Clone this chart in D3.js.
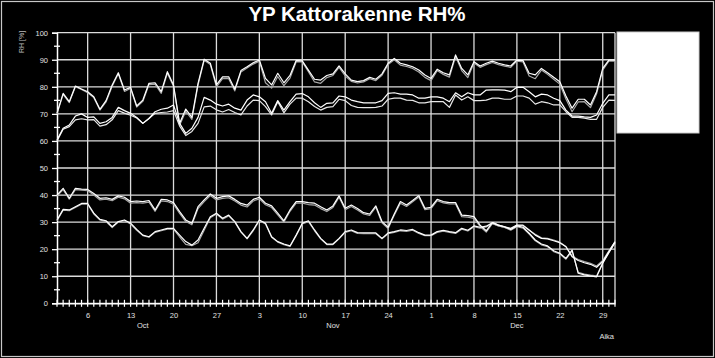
<!DOCTYPE html>
<html><head><meta charset="utf-8">
<script src="https://cdn.jsdelivr.net/npm/d3@7"></script>
<style>
body{margin:0;background:#000}
svg{display:block}
text{font-family:"Liberation Sans",Arial,sans-serif}
</style>
</head><body>
<svg id="chart" width="715" height="358"></svg>
<script>
const title = "YP Kattorakenne RH%";
const yLabel = "RH [%]";
const xLabel = "Aika";
const startDate = "2013-10-01";
const endDate = "2013-12-31";
const yTicks = [0,10,20,30,40,50,60,70,80,90,100];
const yMinorTicks = [5,15,25,35,45,55,65,75,85,95];
const monthLabels = ["Oct","Nov","Dec"];
const monthLabelDates = ["2013-10-15","2013-11-15","2013-12-15"];

const a1 = [70.3,77.6,74.5,80.3,79.2,78.2,76.3,71.7,74.9,80.7,85.2,78.8,79.8,72.9,75.1,81.3,81.5,78.2,85.6,80.7,66.5,71.8,68.7,81.3,90.2,88.7,80.7,83.7,83.7,79.1,86.0,87.4,88.9,89.9,83.1,80.7,85.0,81.5,84.2,89.7,89.6,86.2,82.8,82.5,84.2,84.8,87.7,84.8,82.5,81.9,82.3,83.5,82.8,84.8,88.7,90.5,88.7,88.1,87.4,86.2,84.4,83.1,86.5,85.2,84.4,91.8,86.8,84.4,89.3,87.7,88.7,89.5,88.7,88.1,87.7,89.9,89.7,85.0,84.4,86.8,85.2,83.5,81.9,76.6,72.1,75.4,75.4,73.3,78.2,86.8,89.9,89.9];
const a2 = [70.0,77.2,74.2,80.0,79.0,77.8,76.0,71.4,74.4,80.2,84.8,78.3,79.4,72.5,74.6,80.8,81.0,77.6,85.0,80.2,65.8,71.0,68.0,80.6,89.8,88.2,80.0,83.0,83.0,78.5,85.5,87.0,88.4,89.5,81.5,79.5,83.8,80.4,83.2,89.2,89.2,85.6,81.8,81.3,83.4,84.2,87.2,84.0,82.0,81.4,81.8,83.0,82.3,84.3,88.2,90.0,88.0,87.5,86.8,85.5,83.5,82.3,86.0,84.6,83.6,91.2,86.0,83.4,88.8,87.2,88.2,89.0,88.2,87.6,87.2,89.5,89.2,84.0,83.0,86.2,84.6,82.8,81.0,75.5,70.8,74.4,74.5,72.3,77.4,86.2,89.5,89.5];
const b1 = [60.3,64.7,65.9,69.2,70.0,68.7,68.9,66.5,67.1,68.7,72.4,71.2,70.2,68.7,66.5,68.3,70.8,71.7,72.1,73.3,66.5,62.8,64.7,68.7,76.1,75.1,73.6,72.9,73.6,72.1,71.4,75.1,77.0,76.3,74.5,70.2,74.9,71.4,74.5,77.3,77.5,76.3,74.1,72.4,73.9,74.1,76.6,76.3,75.1,74.5,74.1,74.1,74.1,74.9,77.6,77.8,77.3,77.3,77.0,75.8,75.8,76.3,76.3,75.8,74.5,77.8,76.3,77.8,77.0,77.0,78.8,78.9,78.9,78.8,78.2,79.8,79.8,78.2,76.3,77.3,77.0,75.8,74.9,71.4,69.2,69.2,68.9,68.7,69.6,73.9,77.0,77.0];
const b2 = [60.0,64.3,65.3,67.8,68.2,67.8,67.9,65.5,66.0,67.8,71.2,70.3,69.5,68.5,66.5,68.3,70.2,70.5,70.7,71.2,65.5,62.0,63.5,66.5,72.6,72.9,71.5,70.7,71.6,70.5,69.6,72.9,75.1,74.9,72.7,69.6,74.5,70.4,73.6,75.8,75.8,74.5,72.7,71.4,72.4,72.7,75.4,74.9,73.1,72.4,72.3,72.3,72.4,72.9,75.4,75.8,75.8,75.1,75.0,74.1,74.1,74.5,74.5,74.5,72.4,77.0,75.1,76.3,74.9,74.9,75.1,75.8,75.8,75.4,75.4,76.6,76.6,75.8,73.6,74.5,74.1,73.3,73.3,70.8,68.7,68.7,68.4,68.0,68.0,72.4,75.1,75.0];
const c1 = [40.0,42.5,38.8,42.5,42.2,42.1,40.6,38.8,39.0,38.4,39.7,39.2,37.6,37.8,37.6,38.0,34.5,38.4,38.2,37.2,33.9,30.8,29.6,35.7,38.2,40.4,38.8,39.4,39.7,38.4,36.9,36.3,38.4,39.2,37.0,36.0,33.3,30.5,34.5,37.6,37.6,37.2,37.0,35.7,34.5,36.0,39.7,35.1,36.3,35.0,33.5,33.0,36.0,30.2,28.1,33.0,37.6,36.3,38.0,39.8,35.1,35.5,38.4,37.6,37.2,37.2,32.6,32.4,32.0,28.9,26.8,29.8,28.9,28.3,27.7,28.9,28.9,27.1,25.2,24.0,23.8,23.1,22.4,20.9,17.2,15.8,15.0,14.4,13.3,15.4,19.1,22.8];
const c2 = [39.6,42.0,38.5,42.0,41.8,41.6,40.0,38.2,38.5,37.9,39.2,38.6,37.0,37.2,37.0,37.4,34.0,37.8,37.6,36.6,33.2,30.2,29.0,35.0,37.6,39.8,38.2,38.8,39.0,37.8,36.3,35.6,37.8,38.6,36.4,35.4,32.7,30.0,34.0,37.0,37.0,36.5,36.3,35.0,33.9,35.4,39.2,34.6,35.8,34.5,33.0,32.5,35.5,29.7,27.6,32.5,37.0,35.8,37.5,39.3,34.6,35.0,37.9,37.1,36.7,36.7,32.0,31.8,31.4,28.4,26.3,29.4,28.6,28.0,27.4,28.8,28.6,27.0,25.5,24.2,24.0,23.4,22.6,21.0,17.5,16.2,15.4,14.8,13.8,15.8,19.4,22.6];
const d1 = [30.8,34.7,34.5,35.7,36.9,36.9,33.3,31.0,30.5,28.3,30.2,30.8,29.6,27.3,25.2,24.6,26.5,27.1,27.7,27.7,25.2,22.8,21.5,23.4,27.7,32.0,33.3,31.4,32.6,30.2,26.5,24.0,27.1,30.8,29.6,24.6,22.8,21.9,21.2,25.2,29.6,30.5,27.1,24.0,21.9,21.9,24.0,26.5,27.1,26.1,26.0,26.0,26.0,24.0,26.0,26.5,27.1,26.9,27.3,26.1,25.2,25.2,26.5,27.0,26.5,26.1,27.7,27.0,28.6,28.1,28.5,29.8,28.9,28.3,27.3,28.6,28.1,25.9,23.4,21.9,21.2,19.4,18.5,16.6,19.7,11.1,10.5,10.1,9.8,14.8,18.7,22.4];
const d2 = [30.5,34.4,34.2,35.4,36.6,36.6,33.0,30.8,30.2,28.0,30.0,30.5,29.3,27.0,25.0,24.4,26.2,26.8,27.4,27.4,24.5,21.8,21.3,22.4,27.0,31.6,33.0,31.1,32.3,30.0,26.3,23.8,26.8,30.5,29.3,24.4,22.6,21.7,21.0,25.0,29.3,30.2,26.8,23.8,21.7,21.7,23.8,26.2,26.8,25.8,25.7,25.7,25.7,23.8,25.7,26.2,26.8,26.6,27.0,25.8,25.0,25.0,26.2,26.7,26.2,25.8,27.4,26.7,28.3,27.8,28.2,29.5,28.6,28.0,27.0,28.3,27.8,25.6,23.1,21.6,20.9,19.1,18.2,16.3,19.3,11.4,10.8,10.4,10.1,15.0,18.9,22.5];

const series = [
  {values: a2, color: "#a8a8a8"},
  {values: c2, color: "#a8a8a8"},
  {values: d2, color: "#a8a8a8"},
  {values: b2, color: "#e8e8e8"},
  {values: b1, color: "#ffffff"},
  {values: a1, color: "#ffffff"},
  {values: c1, color: "#ffffff"},
  {values: d1, color: "#ffffff"}
];

const parse = d3.timeParse("%Y-%m-%d");
const t0 = parse(startDate), t1 = parse(endDate);
const svg = d3.select("#chart");
const W = 715, H = 358;
const m = {left: 57, right: 615, top: 32.7, bottom: 303.3};
const FS = 7.5;

svg.append("rect").attr("width", W).attr("height", H).attr("fill", "#000");
svg.append("rect").attr("x", 1.5).attr("y", 1.5).attr("width", W - 3).attr("height", H - 3)
  .attr("fill", "none").attr("stroke", "#c8c8c8").attr("stroke-width", 1.2);

svg.append("text").attr("x", 357).attr("y", 21).attr("text-anchor", "middle")
  .attr("fill", "#fff").attr("font-size", 20.5).attr("font-weight", "bold").text(title);

const x = d3.scaleTime().domain([t0, t1]).range([m.left, m.right]);
const y = d3.scaleLinear().domain([0, 100]).range([m.bottom, m.top]);

const grid = svg.append("g");
grid.selectAll("line.h").data(yTicks).join("line")
  .attr("x1", m.left).attr("x2", m.right)
  .attr("y1", d => y(d)).attr("y2", d => y(d))
  .attr("stroke", "#dcdcdc").attr("stroke-width", 1.3);
const weekTicks = x.ticks(d3.timeWeek.every(1));
grid.selectAll("line.v").data(weekTicks).join("line")
  .attr("x1", d => x(d)).attr("x2", d => x(d))
  .attr("y1", m.top).attr("y2", m.bottom)
  .attr("stroke", "#dcdcdc").attr("stroke-width", 1.3);
grid.append("line").attr("x1", m.right).attr("x2", m.right).attr("y1", m.top).attr("y2", m.bottom)
  .attr("stroke", "#dcdcdc").attr("stroke-width", 1.3);

// y axis
const yAxis = d3.axisLeft(y).tickValues(yTicks).tickSize(5).tickPadding(4);
const gy = svg.append("g").attr("transform", `translate(${m.left},0)`).call(yAxis);
gy.select(".domain").attr("stroke", "#fff").attr("stroke-width", 1.5);
gy.selectAll(".tick line").attr("stroke", "#fff").attr("stroke-width", 1.3);
gy.selectAll(".tick text").attr("fill", "#e0e0e0").attr("font-size", FS).attr("font-family", "Liberation Sans, Arial, sans-serif");
svg.append("g").selectAll("line").data(yMinorTicks).join("line")
  .attr("x1", m.left - 3).attr("x2", m.left + 3)
  .attr("y1", d => y(d)).attr("y2", d => y(d))
  .attr("stroke", "#fff").attr("stroke-width", 1.3);

svg.append("text").attr("transform", "translate(24,42) rotate(-90)")
  .attr("text-anchor", "middle").attr("fill", "#bbb").attr("font-size", 7).text(yLabel);

// x axis
const xAxis = d3.axisBottom(x).ticks(d3.timeWeek.every(1)).tickFormat(d3.timeFormat("%-d")).tickSize(0).tickPadding(9);
const gx = svg.append("g").attr("transform", `translate(0,${m.bottom})`).call(xAxis);
gx.select(".domain").attr("stroke", "#fff").attr("stroke-width", 1.5);
gx.selectAll(".tick text").attr("fill", "#e0e0e0").attr("font-size", FS).attr("font-family", "Liberation Sans, Arial, sans-serif");
const dayTicks = x.ticks(d3.timeDay.every(1));
svg.append("g").selectAll("line").data(dayTicks).join("line")
  .attr("x1", d => x(d)).attr("x2", d => x(d))
  .attr("y1", m.bottom - 3.5).attr("y2", m.bottom + 3.5)
  .attr("stroke", "#fff").attr("stroke-width", 1.2);

svg.append("g").selectAll("text").data(monthLabels).join("text")
  .attr("x", (d, i) => x(parse(monthLabelDates[i])))
  .attr("y", 328).attr("text-anchor", "middle")
  .attr("fill", "#e0e0e0").attr("font-size", FS).text(d => d);

svg.append("text").attr("x", 614).attr("y", 339).attr("text-anchor", "end")
  .attr("fill", "#e0e0e0").attr("font-size", FS).text(xLabel);

// series
const line = d3.line().x((d, i) => x(d3.timeDay.offset(t0, i))).y(d => y(d));
svg.append("g").selectAll("path").data(series).join("path")
  .attr("d", s => line(s.values))
  .attr("fill", "none").attr("stroke", s => s.color).attr("stroke-width", 1.2)
  .attr("stroke-linejoin", "round");

// legend box (empty)
svg.append("rect").attr("x", 617).attr("y", 32).attr("width", 82).attr("height", 101)
  .attr("fill", "#fff").attr("stroke", "#ccc").attr("stroke-width", 1);
</script>
</body></html>
